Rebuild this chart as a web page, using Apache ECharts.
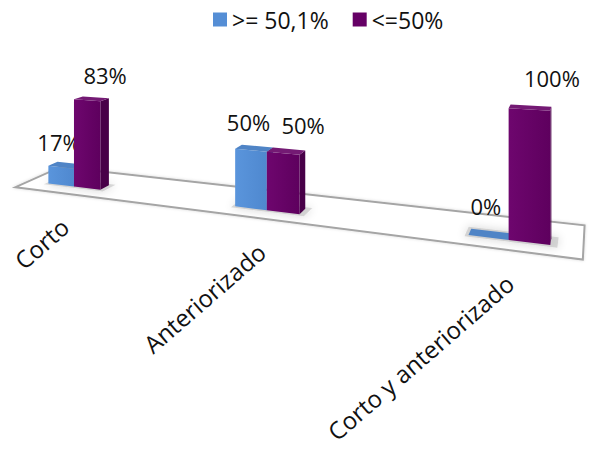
<!DOCTYPE html>
<html>
<head>
<meta charset="utf-8">
<script src="https://cdn.jsdelivr.net/npm/echarts@6/dist/echarts.min.js"></script>
<style>
html,body{margin:0;padding:0;background:#fff;}
#chart{width:591px;height:454px;}
</style>
</head>
<body>
<div id="chart"></div>
<script>
// ---- data ----
const categories = ['Corto', 'Anteriorizado', 'Corto y anteriorizado'];
const seriesNames = ['>= 50,1%', '<=50%'];
const valuesHigh = [17, 50, 0];    // >= 50,1%
const valuesLow = [83, 50, 100];   // <=50%

// ---- layout / style ----
const FONT = '"Open Sans", "Noto Sans", sans-serif';
const GRID = { left: 0, top: 100, width: 471, height: 100 };
const P = { K: 0.0964, X0: -8.5, Y0: 176.4, SY: 19.3, VPX: 600, VPY: -74 };
const BAR_FRAC = 0.15, BAR_DEPTH = 0.016;
const FLOOR_MARGIN = 0.235, FLOOR_FRONT = -0.0235, FLOOR_BACK = 0.054;
const LABEL_RISE = 24;
const pals = [
  { front: ['#5A95DC', '#4F88CF'], side: '#3D6DAC', top: '#4F84C6', legend: '#558ED5' },
  { front: ['#6E066E', '#5E005E'], side: '#480048', top: '#741A74', legend: '#660066' }
];

function depthScale(xl, band) { return 1 - P.K * (xl - GRID.left) / band; }
function proj(xl, h, depth, band) {
  const u = (xl - GRID.left) / band;
  const D = 1 - P.K * u;
  let x = P.X0 + band * u / D;
  let y = P.Y0 + P.SY * u / D - h / D;
  const f = depth / D;
  x += (P.VPX - x) * f;
  y += (P.VPY - y) * f;
  return [x, y];
}

function floorItem(params, api) {
  const i = api.value(0);
  const band = api.size([1, 0])[0];
  const c = api.coord([i, 0]);
  const children = [];
  if (params.dataIndex === 0) {
    const first = api.coord([0, 0])[0] - band / 2 + FLOOR_MARGIN * band;
    const last = api.coord([categories.length - 1, 0])[0] + band / 2 - FLOOR_MARGIN * band;
    children.push({
      type: 'polygon',
      shape: { points: [proj(first, 0, FLOOR_FRONT, band), proj(last, 0, FLOOR_FRONT, band),
                        proj(last, 0, FLOOR_BACK, band), proj(first, 0, FLOOR_BACK, band)] },
      style: { fill: '#ffffff', stroke: '#A5A5A5', lineWidth: 2, shadowBlur: 3, shadowColor: 'rgba(0,0,0,0.15)' }
    });
  }
  // soft shadow under the pair of bars
  const w = band * BAR_FRAC;
  children.push({
    type: 'polygon',
    shape: { points: [proj(c[0] - w - 2, 0, -0.004, band), proj(c[0] + w + 4, 0, -0.004, band),
                      proj(c[0] + w + 4, 0, 0.02, band), proj(c[0] - w - 2, 0, 0.02, band)] },
    style: { fill: 'rgba(150,150,150,0.35)', shadowBlur: 10, shadowColor: 'rgba(0,0,0,0.45)' }
  });
  // category label
  const a = proj(c[0], 0, FLOOR_FRONT, band);
  children.push({
    type: 'text',
    x: a[0] + 4, y: a[1] + 30,
    rotation: 41 * Math.PI / 180,
    style: { text: categories[i], align: 'right', verticalAlign: 'middle',
             fontSize: 24, fontFamily: FONT, fill: '#111' }
  });
  return { type: 'group', children };
}

function makeBar(side, pal, labelDX) {
  return function (params, api) {
    const i = api.value(0), v = api.value(1);
    const c = api.coord([i, 0]), t = api.coord([i, v]);
    const band = api.size([1, 0])[0];
    const w = band * BAR_FRAC;
    const xa = side < 0 ? c[0] - w : c[0];
    const xb = xa + w;
    const h = c[1] - t[1];
    const fa = proj(xa, 0, 0, band), fb = proj(xb, 0, 0, band);
    const ta = proj(xa, h, 0, band), tb = proj(xb, h, 0, band);
    const fbB = proj(xb, 0, BAR_DEPTH, band), tbB = proj(xb, h, BAR_DEPTH, band), taB = proj(xa, h, BAR_DEPTH, band);
    const mx = (xa + xb) / 2;
    const tc = proj(mx, h, 0, band);
    const D = depthScale(mx, band);
    return {
      type: 'group',
      children: [
        { type: 'polygon', shape: { points: [fb, fbB, tbB, tb] }, style: { fill: pal.side } },
        { type: 'polygon', shape: { points: [fa, fb, tb, ta] },
          style: { fill: new echarts.graphic.LinearGradient(0, 0, 1, 0, [
            { offset: 0, color: pal.front[0] }, { offset: 1, color: pal.front[1] }]) } },
        { type: 'polygon', shape: { points: [ta, tb, tbB, taB] }, style: { fill: pal.top } },
        { type: 'text', x: tc[0] + labelDX / D, y: tc[1] - LABEL_RISE / D,
          style: { text: v + '%', align: 'center', verticalAlign: 'middle',
                   fontSize: 22, fontFamily: FONT, fill: '#111' } }
      ]
    };
  };
}

const chart = echarts.init(document.getElementById('chart'), null, { renderer: 'svg' });
chart.setOption({
  animation: false,
  backgroundColor: '#ffffff',
  grid: GRID,
  xAxis: { type: 'category', data: categories, show: false, boundaryGap: true },
  yAxis: { type: 'value', min: 0, max: 100, show: false },
  legend: {
    data: seriesNames, left: 213, top: 8, padding: 0, icon: 'rect',
    itemWidth: 14, itemHeight: 14, itemGap: 24,
    textStyle: { fontSize: 23, fontFamily: FONT, color: '#111' }
  },
  series: [
    { type: 'custom', name: 'floor', data: categories.map((c, i) => [i, 0]),
      renderItem: floorItem, silent: true },
    { type: 'custom', name: seriesNames[0], data: valuesHigh.map((v, i) => [i, v]),
      encode: { x: 0, y: 1 }, itemStyle: { color: pals[0].legend }, renderItem: makeBar(-1, pals[0], -2) },
    { type: 'custom', name: seriesNames[1], data: valuesLow.map((v, i) => [i, v]),
      encode: { x: 0, y: 1 }, itemStyle: { color: pals[1].legend }, renderItem: makeBar(1, pals[1], 17) }
  ]
});
</script>
</body>
</html>
